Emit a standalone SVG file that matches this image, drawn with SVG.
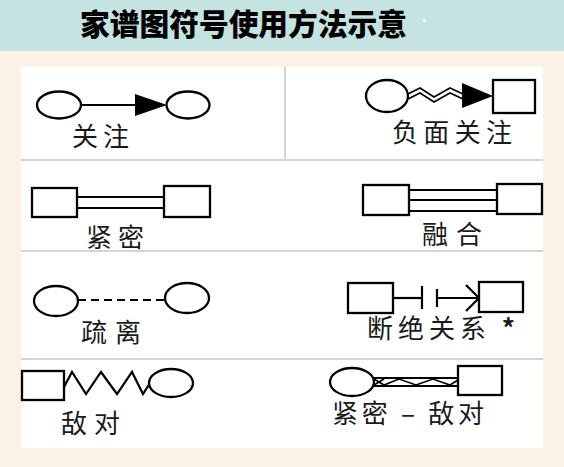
<svg xmlns="http://www.w3.org/2000/svg" width="564" height="467" viewBox="0 0 564 467">
<style>
.sh{fill:#fff;stroke:#000;stroke-width:2.3}
.ln{fill:none;stroke:#000;stroke-width:2.2}
.thin{fill:none;stroke:#000;stroke-width:1.6}
.sep{stroke:#d4d4d4;stroke-width:2}
.lb{font-family:"Noto Sans CJK SC","Noto Sans",sans-serif;font-size:26px;fill:#1a1a1a}
.tt{font-family:"Noto Sans CJK SC","Noto Sans",sans-serif;font-size:30px;font-weight:900;fill:#000}
</style>
<rect x="0" y="0" width="564" height="467" fill="#fbf1e4"/>
<rect x="0" y="0" width="564" height="51" fill="#c5e3e0"/>
<text class="tt" x="80" y="35" textLength="327" lengthAdjust="spacingAndGlyphs">家谱图符号使用方法示意</text>
<rect x="423" y="19" width="3" height="3" fill="#fff"/>
<rect x="21" y="67" width="522" height="381" fill="#fff"/>
<g id="grid">
<line class="sep" x1="21" y1="160" x2="543" y2="160"/>
<line class="sep" x1="21" y1="251" x2="543" y2="251"/>
<line class="sep" x1="21" y1="359" x2="543" y2="359"/>
<line class="sep" x1="285" y1="67" x2="285" y2="160"/>
</g>
<g id="connectors">
<line class="ln" x1="81" y1="105" x2="136" y2="105"/>
<path d="M135,94L167,105L135,116Z" fill="#000"/>
<path class="thin" d="M408,94L420,88L434,97L450,88L463,94"/>
<path class="thin" d="M408,99L420,93L434,102L450,93L463,99"/>
<path d="M462,83L493,96L462,108Z" fill="#000"/>
<line class="ln" x1="77" y1="197" x2="164" y2="197"/>
<line class="ln" x1="77" y1="208" x2="164" y2="208"/>
<line class="ln" x1="409" y1="190" x2="497" y2="190"/>
<line class="ln" x1="409" y1="200" x2="497" y2="200"/>
<line class="ln" x1="409" y1="211" x2="497" y2="211"/>
<line class="ln" x1="78" y1="300" x2="164" y2="300" stroke-dasharray="8,5"/>
<line class="ln" x1="393" y1="298" x2="422" y2="298"/>
<line class="ln" x1="422" y1="286" x2="422" y2="309"/>
<line class="ln" x1="437" y1="289" x2="437" y2="307"/>
<line class="ln" x1="437" y1="298" x2="479" y2="298"/>
<path class="ln" d="M466,285L479,298L466,311"/>
<path class="ln" d="M64,387L72,372L86,394L101,372L117,394L132,372L143,394L150,383"/>
<line class="ln" x1="373" y1="378" x2="458" y2="378"/>
<line class="ln" x1="373" y1="386" x2="458" y2="386"/>
<path class="thin" d="M374,379L384,385L399,379L416,385L433,379L450,385L458,380"/>
<path class="thin" d="M374,385L384,379"/>
</g>
<g id="n-guanzhu">
<ellipse class="sh" cx="59" cy="105" rx="22" ry="13.5"/>
<ellipse class="sh" cx="188" cy="105" rx="21.5" ry="13.5"/>
<text class="lb" x="72" y="146" textLength="57" lengthAdjust="spacing">关注</text>
</g>
<g id="n-fumian">
<ellipse class="sh" cx="387" cy="96" rx="21" ry="16"/>
<rect class="sh" x="493" y="80" width="42" height="33"/>
<text class="lb" x="392" y="142" textLength="120" lengthAdjust="spacing">负面关注</text>
</g>
<g id="n-jinmi">
<rect class="sh" x="32" y="188" width="45" height="29"/>
<rect class="sh" x="164" y="186" width="46" height="31"/>
<text class="lb" x="86" y="247" textLength="58" lengthAdjust="spacing">紧密</text>
</g>
<g id="n-ronghe">
<rect class="sh" x="363" y="185" width="46" height="30"/>
<rect class="sh" x="497" y="184" width="45" height="30"/>
<text class="lb" x="422" y="244" textLength="60" lengthAdjust="spacing">融合</text>
</g>
<g id="n-shuli">
<ellipse class="sh" cx="56" cy="301" rx="22" ry="15"/>
<ellipse class="sh" cx="187" cy="298" rx="22" ry="15"/>
<text class="lb" x="81" y="342" textLength="60" lengthAdjust="spacing">疏离</text>
</g>
<g id="n-duanjue">
<rect class="sh" x="348" y="283" width="45" height="30"/>
<rect class="sh" x="479" y="282" width="44" height="30"/>
<text class="lb" x="367" y="338" textLength="148" lengthAdjust="spacing">断绝关系 <tspan font-weight="bold">*</tspan></text>
</g>
<g id="n-didui">
<rect class="sh" x="22" y="371" width="42" height="29"/>
<ellipse class="sh" cx="171" cy="383" rx="22" ry="14"/>
<text class="lb" x="61" y="433" textLength="59" lengthAdjust="spacing">敌对</text>
</g>
<g id="n-jinmididui">
<ellipse class="sh" cx="352" cy="382" rx="22" ry="14"/>
<rect class="sh" x="458" y="366" width="44" height="29"/>
<text class="lb" x="332" y="423" textLength="152" lengthAdjust="spacing">紧密 – 敌对</text>
</g>
</svg>
